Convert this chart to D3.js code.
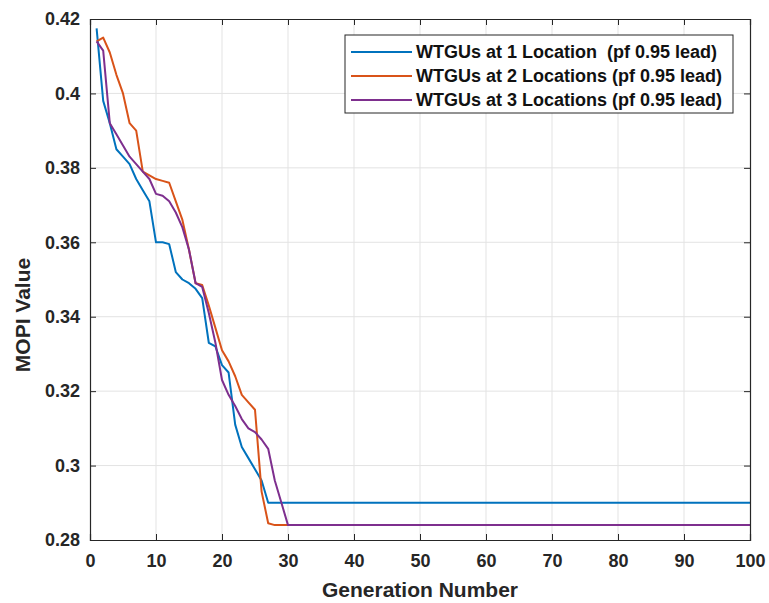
<!DOCTYPE html>
<html lang="en">
<head>
<meta charset="UTF-8">
<title>MOPI Value vs Generation Number</title>
<script src="https://d3js.org/d3.v7.min.js"></script>
<style>
  body { margin: 0; background: #fff; }
  svg { display: block; font-family: "Liberation Sans", Arial, sans-serif; font-weight: bold; }
  .grid line { stroke: #e3e3e3; stroke-width: 1; }
  .tick-label { font-size: 18px; fill: #262626; }
  .axis-title { font-size: 21px; fill: #262626; }
  .legend text { font-size: 18px; fill: #111; white-space: pre; }
</style>
</head>
<body>
<script>
// generations sampled (after 30 all runs stay flat until 100)
const generations = [1, 2, 3, 4, 5, 6, 7, 8, 9, 10, 11, 12, 13, 14, 15, 16, 17, 18, 19, 20,
                     21, 22, 23, 24, 25, 26, 27, 28, 29, 30, 100];

const loc1 = [0.4175, 0.398, 0.392, 0.385, 0.383, 0.381, 0.377, 0.374, 0.371, 0.360,
              0.360, 0.3595, 0.352, 0.350, 0.349, 0.3475, 0.345, 0.333, 0.332, 0.327,
              0.325, 0.311, 0.305, 0.302, 0.299, 0.296, 0.290, 0.290, 0.290, 0.290, 0.290];
const loc2 = [0.414, 0.415, 0.411, 0.405, 0.400, 0.392, 0.390, 0.379, 0.378, 0.377,
              0.3765, 0.376, 0.371, 0.366, 0.358, 0.349, 0.3485, 0.343, 0.337, 0.331,
              0.328, 0.324, 0.319, 0.317, 0.315, 0.293, 0.2845, 0.284, 0.284, 0.284, 0.284];
const loc3 = [0.414, 0.4115, 0.392, 0.389, 0.386, 0.383, 0.381, 0.379, 0.377, 0.373,
              0.3725, 0.371, 0.368, 0.364, 0.358, 0.349, 0.348, 0.341, 0.333, 0.323,
              0.319, 0.316, 0.3125, 0.310, 0.309, 0.307, 0.3045, 0.296, 0.290, 0.284, 0.284];

const seriesNames = [
  "WTGUs at 1 Location  (pf 0.95 lead)",
  "WTGUs at 2 Locations (pf 0.95 lead)",
  "WTGUs at 3 Locations (pf 0.95 lead)"
];
const seriesColors = ["#0072BD", "#D95319", "#7E2F8E"];

const xTicks = [0, 10, 20, 30, 40, 50, 60, 70, 80, 90, 100];
const yTicks = [0.28, 0.30, 0.32, 0.34, 0.36, 0.38, 0.40, 0.42];
const yTickLabels = ["0.28", "0.3", "0.32", "0.34", "0.36", "0.38", "0.4", "0.42"];

const W = 769, H = 603;
const margin = { top: 19, right: 19, bottom: 63, left: 90 };
const iw = W - margin.left - margin.right;
const ih = H - margin.top - margin.bottom;

const svg = d3.select("body").append("svg")
  .attr("width", W)
  .attr("height", H);

svg.append("rect").attr("width", W).attr("height", H).attr("fill", "#fff");

const g = svg.append("g").attr("transform", `translate(${margin.left},${margin.top})`);

const x = d3.scaleLinear().domain([0, 100]).range([0, iw]);
const y = d3.scaleLinear().domain([0.28, 0.42]).range([ih, 0]);

// grid
const grid = g.append("g").attr("class", "grid");
grid.selectAll(".gx").data(xTicks.slice(1, -1)).enter().append("line")
  .attr("x1", d => x(d)).attr("x2", d => x(d))
  .attr("y1", 0).attr("y2", ih);
grid.selectAll(".gy").data(yTicks.slice(1, -1)).enter().append("line")
  .attr("x1", 0).attr("x2", iw)
  .attr("y1", d => y(d)).attr("y2", d => y(d));

// lines
const line = d3.line()
  .x((d, i) => x(generations[i]))
  .y(d => y(d));

[loc1, loc2, loc3].forEach((vals, k) => {
  g.append("path")
    .datum(vals)
    .attr("fill", "none")
    .attr("stroke", seriesColors[k])
    .attr("stroke-width", 2)
    .attr("stroke-linejoin", "round")
    .attr("d", line);
});

// axes, ticks pointing inward on all four sides (matlab box style)
const tickLen = 6;
const axB = g.append("g").attr("transform", `translate(0,${ih})`)
  .call(d3.axisBottom(x).tickValues(xTicks).tickSize(-tickLen).tickPadding(14).tickFormat(d3.format("d")));
const axT = g.append("g")
  .call(d3.axisTop(x).tickValues(xTicks).tickSize(-tickLen).tickFormat(""));
const axL = g.append("g")
  .call(d3.axisLeft(y).tickValues(yTicks).tickSize(-tickLen).tickPadding(10)
    .tickFormat((d, i) => yTickLabels[i]));
const axR = g.append("g").attr("transform", `translate(${iw},0)`)
  .call(d3.axisRight(y).tickValues(yTicks).tickSize(-tickLen).tickFormat(""));

[axB, axT, axL, axR].forEach(a => {
  a.select(".domain").attr("stroke", "#262626").attr("stroke-width", 1.2);
  a.selectAll(".tick line").attr("stroke", "#262626");
  a.selectAll(".tick text").attr("class", "tick-label")
    .attr("font-family", null).attr("font-size", null).attr("fill", null);
});
axB.selectAll(".tick text").attr("dy", "0.71em");

// axis titles
svg.append("text").attr("class", "axis-title")
  .attr("x", margin.left + iw / 2).attr("y", 597)
  .attr("text-anchor", "middle")
  .text("Generation Number");

svg.append("text").attr("class", "axis-title")
  .attr("transform", `translate(30,${315}) rotate(-90)`)
  .attr("text-anchor", "middle")
  .text("MOPI Value");

// legend
const legend = svg.append("g").attr("class", "legend").attr("transform", "translate(345,35)");
legend.append("rect")
  .attr("width", 388).attr("height", 78)
  .attr("fill", "#fff").attr("stroke", "#262626").attr("stroke-width", 1);

seriesNames.forEach((name, k) => {
  const ry = 17 + k * 24;
  legend.append("line")
    .attr("x1", 6).attr("x2", 67).attr("y1", ry).attr("y2", ry)
    .attr("stroke", seriesColors[k]).attr("stroke-width", 2);
  legend.append("text")
    .attr("x", 71).attr("y", ry).attr("dy", "0.36em")
    .text(name);
});
</script>
</body>
</html>
